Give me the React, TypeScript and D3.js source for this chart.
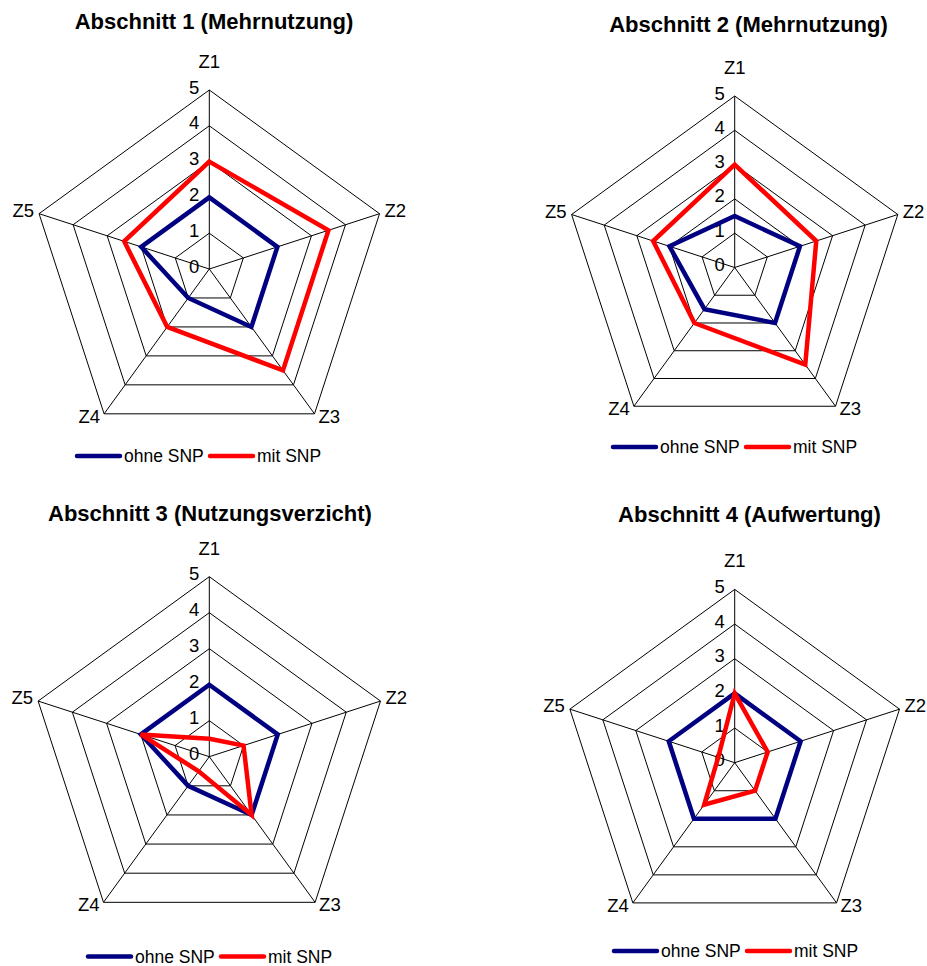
import React from "react";
import * as d3 from "d3";

const axisNames = ["Z1", "Z2", "Z3", "Z4", "Z5"];
const tickValues = [0, 1, 2, 3, 4, 5];
const seriesNames = ["ohne SNP", "mit SNP"];
const seriesColors = ["#000080", "#FF0000"];
const chartTitles = [
  "Abschnitt 1 (Mehrnutzung)",
  "Abschnitt 2 (Mehrnutzung)",
  "Abschnitt 3 (Nutzungsverzicht)",
  "Abschnitt 4 (Aufwertung)",
];
const ohneSNP1 = [2, 2, 2, 1, 2];
const mitSNP1 = [3, 3.5, 3.5, 2, 2.5];
const ohneSNP2 = [1.5, 2, 2, 1.5, 2];
const mitSNP2 = [3, 2.5, 3.5, 2, 2.5];
const ohneSNP3 = [2, 2, 2, 1, 2];
const mitSNP3 = [0.5, 1, 2, 0.5, 2];
const ohneSNP4 = [2, 2, 2, 2, 2];
const mitSNP4 = [2, 1, 1, 1.5, 0.5];

const panelData = [
  [ohneSNP1, mitSNP1],
  [ohneSNP2, mitSNP2],
  [ohneSNP3, mitSNP3],
  [ohneSNP4, mitSNP4],
];

// layout (positions) per panel
const layout = [
  { cx: 209.3, cy: 269, r: 179, tx: 214, ty: 28.5, lx: 77, ly: 456 },
  { cx: 734.7, cy: 267.5, r: 171.5, tx: 748.5, ty: 31.5, lx: 613, ly: 447 },
  { cx: 209.3, cy: 756.7, r: 180, tx: 210, ty: 520.5, lx: 88, ly: 956.5 },
  { cx: 734.7, cy: 762.7, r: 173.3, tx: 749.5, ty: 521.5, lx: 614, ly: 951 },
];

const FONT = "'Liberation Sans', Arial, sans-serif";

function Radar({ idx }: { idx: number }) {
  const L = layout[idx];
  const data = panelData[idx];
  const rScale = d3.scaleLinear().domain([0, 5]).range([0, L.r]);
  const n = axisNames.length;
  const angle = (i: number) => (i * 2 * Math.PI) / n;
  const pt = (i: number, v: number): [number, number] => {
    const a = angle(i);
    return [Math.sin(a) * rScale(v), -Math.cos(a) * rScale(v)];
  };
  const radial = d3
    .lineRadial<number>()
    .angle((_, i) => angle(i))
    .radius((d) => rScale(d))
    .curve(d3.curveLinearClosed);

  const labelOffsets = [
    { dx: 0, dy: -22, anchor: "middle" },
    { dx: 5, dy: 3, anchor: "start" },
    { dx: 4, dy: 9, anchor: "start" },
    { dx: -4, dy: 9, anchor: "end" },
    { dx: -5, dy: 3, anchor: "end" },
  ];

  return (
    <g>
      <text
        x={L.tx}
        y={L.ty}
        textAnchor="middle"
        fontFamily={FONT}
        fontWeight="bold"
        fontSize={22}
        fill="#000"
      >
        {chartTitles[idx]}
      </text>
      <g transform={`translate(${L.cx},${L.cy})`}>
        {tickValues.slice(1).map((t) => (
          <path
            key={t}
            d={radial(axisNames.map(() => t)) || ""}
            fill="none"
            stroke="#000"
            strokeWidth={1}
          />
        ))}
        {axisNames.map((name, i) => {
          const [x, y] = pt(i, 5);
          return (
            <line key={name} x1={0} y1={0} x2={x} y2={y} stroke="#000" strokeWidth={1} />
          );
        })}
        {tickValues.map((t) => (
          <text
            key={t}
            x={-10}
            y={-rScale(t) + 3.5}
            textAnchor="end"
            fontFamily={FONT}
            fontSize={18.5}
            fill="#000"
          >
            {t}
          </text>
        ))}
        {data.map((vals, s) => (
          <path
            key={s}
            d={radial(vals) || ""}
            fill="none"
            stroke={seriesColors[s]}
            strokeWidth={4.5}
            strokeLinejoin="miter"
          />
        ))}
        {axisNames.map((name, i) => {
          const [x, y] = pt(i, 5);
          const o = labelOffsets[i];
          return (
            <text
              key={name}
              x={x + o.dx}
              y={y + o.dy}
              textAnchor={o.anchor as any}
              fontFamily={FONT}
              fontSize={18.5}
              fill="#000"
            >
              {name}
            </text>
          );
        })}
      </g>
      {seriesNames.map((name, s) => {
        const x0 = L.lx + s * 133;
        return (
          <g key={name}>
            <line
              x1={x0}
              x2={x0 + 43}
              y1={L.ly}
              y2={L.ly}
              stroke={seriesColors[s]}
              strokeWidth={4.5}
              strokeLinecap="round"
            />
            <text x={x0 + 47} y={L.ly + 6} fontFamily={FONT} fontSize={17.5} fill="#000">
              {name}
            </text>
          </g>
        );
      })}
    </g>
  );
}

export default function App() {
  return (
    <svg
      width={927}
      height={966}
      style={{ position: "absolute", left: 0, top: 0, background: "#fff" }}
    >
      <rect width={927} height={966} fill="#fff" />
      {layout.map((_, i) => (
        <Radar key={i} idx={i} />
      ))}
    </svg>
  );
}
